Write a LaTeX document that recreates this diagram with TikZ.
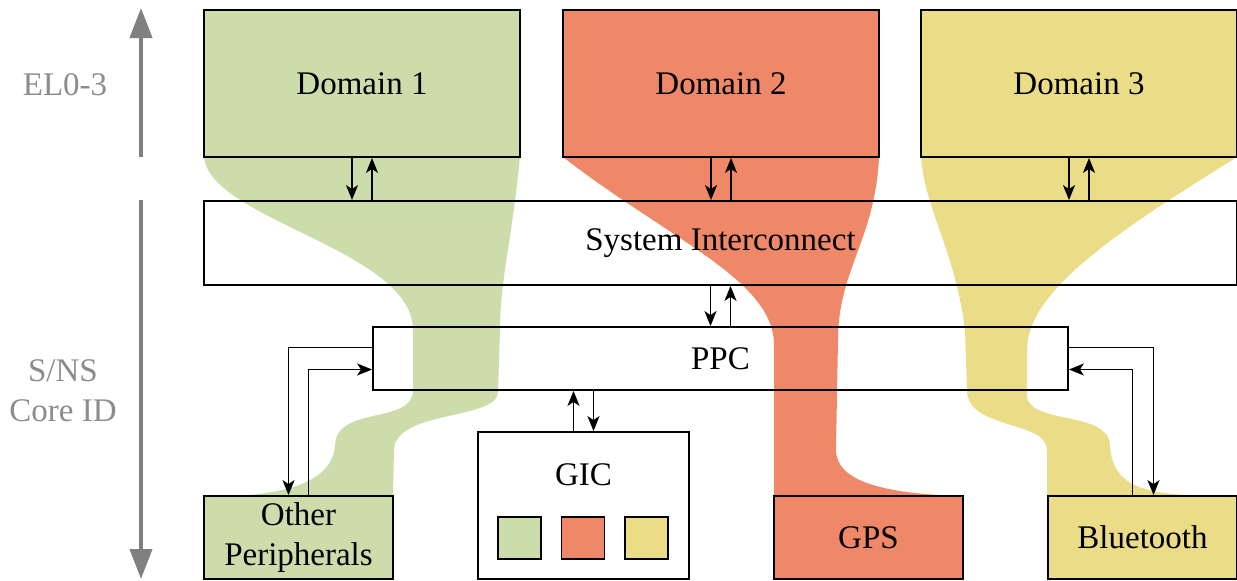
\documentclass[tikz,border=0pt]{standalone}
\usepackage{fontspec}
\setmainfont{Liberation Serif}
\usetikzlibrary{arrows.meta,calc}
\definecolor{dgreen}{RGB}{205,220,171}
\definecolor{dred}{RGB}{239,136,104}
\definecolor{dyellow}{RGB}{235,220,135}
\definecolor{lblgray}{RGB}{140,140,140}
\definecolor{axgray}{RGB}{128,128,128}
\begin{document}
\begin{tikzpicture}[x=1pt,y=-1pt,
  box/.style={draw=black,line width=1.8pt,inner sep=0pt,font=\fontsize{33}{40}\selectfont,align=center},
  arr/.style={line width=1.8pt,-{Stealth[length=15pt,width=12pt,inset=4pt]}},
  axis/.style={draw=axgray,line width=4pt,-{Triangle[length=30pt,width=22pt]}},
  lbl/.style={text=lblgray,font=\fontsize{33}{40}\selectfont,align=center}
]
\useasboundingbox (0,0) rectangle (1237,581);

% funnels
\fill[dgreen] (204,157) -- (520,157)
  .. controls (512,240) and (500,280) .. (500,330) -- (498,392)
  .. controls (498,420) and (395,410) .. (394,450) -- (393,496) -- (230,496)
  .. controls (290,494) and (333,480) .. (335,445)
  .. controls (337,405) and (413,425) .. (413,390) -- (413,330)
  .. controls (413,250) and (210,220) .. (204,157) -- cycle;
\fill[dred] (563,157) -- (879,157)
  .. controls (875,240) and (838,270) .. (838,340) -- (836,450)
  .. controls (836,480) and (880,494) .. (963,496) -- (774,496) -- (774,345)
  .. controls (774,280) and (670,240) .. (563,157) -- cycle;
\fill[dyellow] (921,157) -- (1237,157)
  .. controls (1120,230) and (1027,290) .. (1027,350) -- (1027,395)
  .. controls (1027,425) and (1108,410) .. (1110,445)
  .. controls (1112,490) and (1150,494) .. (1210,496) -- (1047,496) -- (1047,450)
  .. controls (1047,420) and (967,430) .. (967,390) -- (965,330)
  .. controls (955,250) and (925,210) .. (921,157) -- cycle;

% boxes
\node[box,fill=dgreen,minimum width=316pt,minimum height=147pt] (d1) at (362,83.5) {Domain 1};
\node[box,fill=dred,minimum width=316pt,minimum height=147pt] (d2) at (721,83.5) {Domain 2};
\node[box,fill=dyellow,minimum width=316pt,minimum height=147pt] (d3) at (1079,83.5) {Domain 3};
\node[box,minimum width=1033pt,minimum height=84pt] (si) at (720.5,243) {System Interconnect};
\node[box,minimum width=695pt,minimum height=63pt] (ppc) at (720.5,358.5) {PPC};
\node[box,minimum width=211pt,minimum height=147pt] (gic) at (583.5,505.5) {};
\node[font=\fontsize{33}{40}\selectfont] (giclbl) at (583.5,475) {GIC};
\node[box,fill=dgreen,minimum width=43pt,minimum height=42pt] (g1) at (519.5,538) {};
\node[box,fill=dred,minimum width=43pt,minimum height=42pt] (g2) at (583,538) {};
\node[box,fill=dyellow,minimum width=43pt,minimum height=42pt] (g3) at (646.5,538) {};
\node[box,fill=dgreen,minimum width=189pt,minimum height=83pt] (op) at (298.5,537.5) {Other\\[0pt]Peripherals};
\node[box,fill=dred,minimum width=189pt,minimum height=83pt] (gps) at (868.5,537.5) {GPS};
\node[box,fill=dyellow,minimum width=189pt,minimum height=83pt] (bt) at (1142.5,537.5) {Bluetooth};

% vertical connectors
\foreach \n in {d1,d2,d3}{
  \draw[arr] ([xshift=-10pt]\n.south) -- ([xshift=-10pt]\n.south |- si.north);
  \draw[arr] ([xshift=10pt]\n.south |- si.north) -- ([xshift=10pt]\n.south);
}
\draw[arr] ([xshift=-10pt]ppc.north |- si.south) -- ([xshift=-10pt]ppc.north);
\draw[arr] ([xshift=10pt]ppc.north) -- ([xshift=10pt]ppc.north |- si.south);
\draw[arr] ([xshift=-10pt]gic.north) -- ([xshift=-10pt]gic.north |- ppc.south);
\draw[arr] ([xshift=10pt]gic.north |- ppc.south) -- ([xshift=10pt]gic.north);

% side connectors
\draw[arr] ([yshift=11pt]ppc.west) -| ([xshift=-10pt]op.north);
\draw[arr] ([xshift=10pt]op.north) |- ([yshift=-11pt]ppc.west);
\draw[arr] ([yshift=11pt]ppc.east) -| ([xshift=11pt]bt.north);
\draw[arr] ([xshift=-10pt]bt.north) |- ([yshift=-11pt]ppc.east);

% axis
\coordinate (a1s) at (141,157);
\coordinate (a1e) at (141,8);
\coordinate (a2s) at (141,200);
\coordinate (a2e) at (141,579);
\draw[axis] (a1s) -- (a1e);
\draw[axis] (a2s) -- (a2e);
\node[lbl] (el) at (65,85) {EL0-3};
\node[lbl] (sns) at (63,391) {S/NS\\Core ID};
\end{tikzpicture}
\end{document}
